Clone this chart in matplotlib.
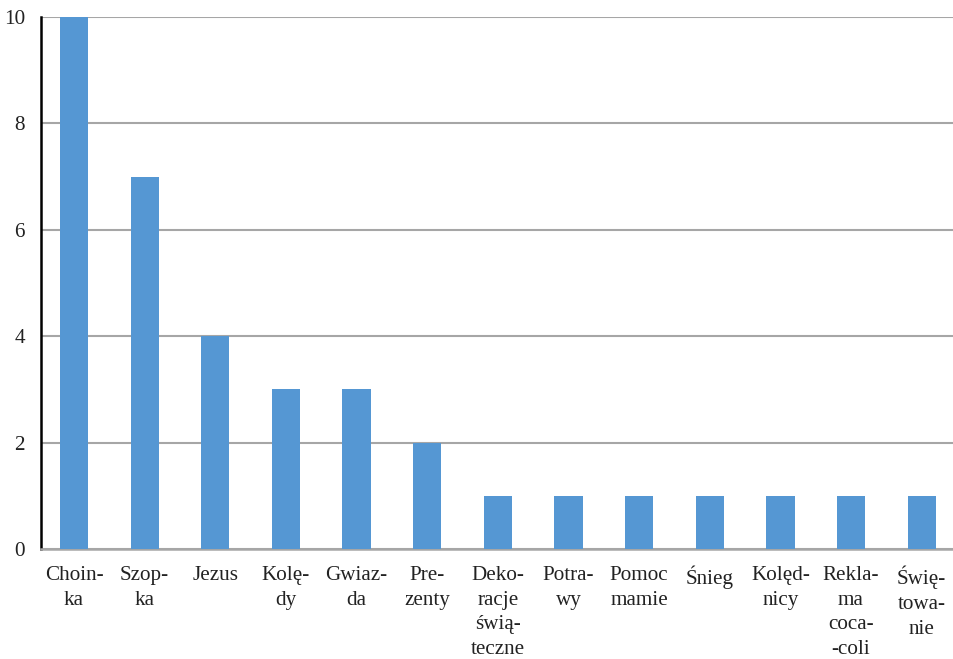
import matplotlib
matplotlib.use("Agg")
import matplotlib.pyplot as plt
import numpy as np

plt.rcParams['font.family'] = ['Liberation Serif', 'DejaVu Serif']

categories = ["Choin-\nka", "Szop-\nka", "Jezus", "Kolę-\ndy", "Gwiaz-\nda",
              "Pre-\nzenty", "Deko-\nracje\nświą-\nteczne", "Potra-\nwy",
              "Pomoc\nmamie", "Śnieg", "Kolęd-\nnicy", "Rekla-\nma\ncoca-\n-coli",
              "Świę-\ntowa-\nnie"]
values = [10, 7, 4, 3, 3, 2, 1, 1, 1, 1, 1, 1, 1]
yticks = [0, 2, 4, 6, 8, 10]

W, H = 954, 659
fig = plt.figure(figsize=(W / 100, H / 100), dpi=100)
left, right, top, bottom = 41, 957, 17, 549
ax = fig.add_axes([left / W, (H - bottom) / H, (right - left) / W, (bottom - top) / H])

x = np.arange(len(categories))
ax.bar(x, values, width=0.4, color='#5597d3', zorder=3)

ax.set_xlim(-0.467, len(categories) - 0.5)
ax.set_ylim(0, 10)
ax.set_yticks(yticks)
ax.set_yticklabels([str(t) for t in yticks])
ax.set_xticks(x)
ax.set_xticklabels(categories, linespacing=1.42)

ax.grid(axis='y', color='#a6a6a6', linewidth=1.5, zorder=0)
ax.tick_params(axis='both', length=0, labelsize=15.2, colors='#222222')
ax.tick_params(axis='y', pad=11.5)
ax.tick_params(axis='x', pad=12)

for s in ['top', 'right']:
    ax.spines[s].set_visible(False)
ax.spines['left'].set_color('black')
ax.spines['left'].set_linewidth(1.8)
ax.spines['bottom'].set_color('#a6a6a6')
ax.spines['bottom'].set_linewidth(1.8)

fig.savefig("out.png", dpi=100)
